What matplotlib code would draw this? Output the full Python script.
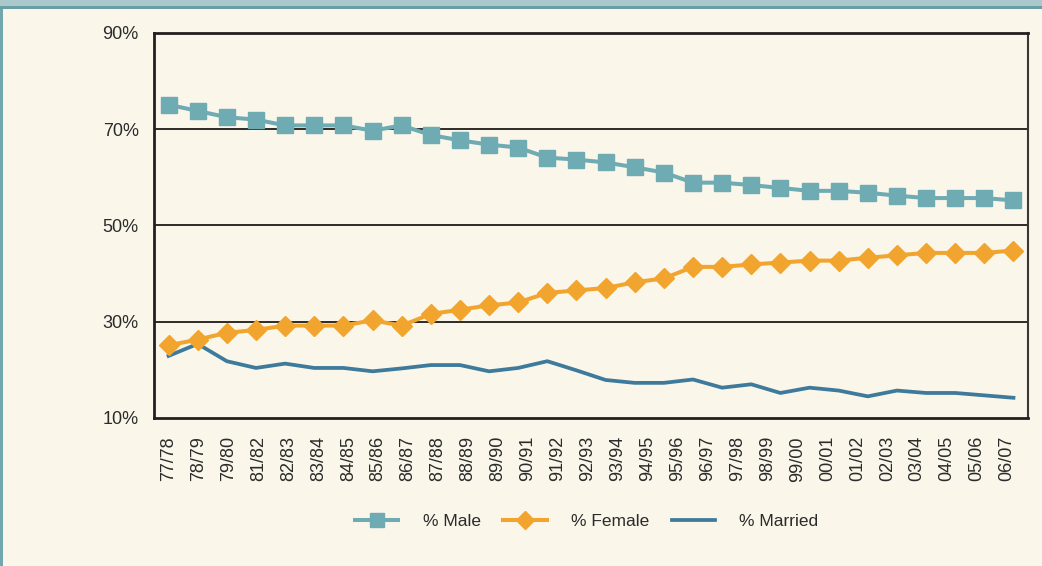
import numpy as np
import matplotlib
matplotlib.use('Agg')
import matplotlib.pyplot as plt
from matplotlib.patches import Rectangle

plt.rcParams['font.family'] = ['Liberation Sans Narrow', 'Liberation Sans', 'DejaVu Sans']

# academic years (tick labels as printed on the chart)
years = ['77/78', '78/79', '79/80', '81/82', '82/83', '83/84', '84/85', '85/86',
         '86/87', '87/88', '88/89', '89/90', '90/91', '91/92', '92/93', '93/94',
         '94/95', '95/96', '96/97', '97/98', '98/99', '99/00', '00/01', '01/02',
         '02/03', '03/04', '04/05', '05/06', '06/07']

# series values (percent), 30 points each
male = [75.1, 73.8, 72.5, 72.0, 70.8, 70.8, 70.8, 69.7, 70.8, 68.8,
        67.7, 66.8, 66.2, 64.1, 63.7, 63.1, 62.1, 61.0, 58.9, 58.9,
        58.4, 57.8, 57.2, 57.2, 56.8, 56.2, 55.7, 55.7, 55.7, 55.2]
female = [25.1, 26.3, 27.7, 28.3, 29.2, 29.2, 29.2, 30.3, 29.2, 31.6,
          32.5, 33.4, 34.0, 36.0, 36.5, 37.0, 38.2, 39.0, 41.4, 41.4,
          41.9, 42.3, 42.7, 42.7, 43.3, 43.8, 44.3, 44.3, 44.3, 44.8]
married = [22.9, 25.4, 21.8, 20.4, 21.3, 20.4, 20.4, 19.7, 20.3, 21.0,
           21.0, 19.7, 20.4, 21.8, 19.9, 17.9, 17.3, 17.3, 18.0, 16.3,
           17.0, 15.2, 16.3, 15.7, 14.5, 15.7, 15.2, 15.2, 14.7, 14.2]

bg = '#FAF6EA'
c_male = '#6FABB3'
c_female = '#F2A52E'
c_married = '#3D7A9B'

fig = plt.figure(figsize=(10.42, 5.66), dpi=100, facecolor=bg)
ax = fig.add_axes([0.1478, 0.2615, 0.8388, 0.6802])
ax.set_facecolor(bg)

x = np.arange(len(male))
ax.plot(x, married, color=c_married, lw=2.7, solid_joinstyle='round', label='% Married', zorder=3)
ax.plot(x, female, color=c_female, lw=2.9, marker='D', ms=10.5, mec=c_female, label='% Female', zorder=4)
ax.plot(x, male, color=c_male, lw=2.9, marker='s', ms=11.5, mec=c_male, label='% Male', zorder=5)

ax.set_xlim(-0.5, len(male) - 0.5)
ax.set_ylim(10, 90)
ax.set_yticks([10, 30, 50, 70, 90])
ax.set_yticklabels(['10%', '30%', '50%', '70%', '90%'])
for yv in [30, 50, 70]:
    ax.axhline(yv, color='#2E2A26', lw=1.4, zorder=1)

ax.set_xticks(np.linspace(0, 28.78, len(years)))
ax.set_xticklabels(years, rotation=90, va='top')
ax.tick_params(axis='both', length=0, labelsize=13, colors='#2B2B2B')
ax.tick_params(axis='y', pad=11)
ax.tick_params(axis='x', pad=13)

for side in ['left', 'bottom', 'top']:
    ax.spines[side].set_color('#231F20')
    ax.spines[side].set_linewidth(2)
ax.spines['right'].set_color('#3A3633')
ax.spines['right'].set_linewidth(1.5)

h, l = ax.get_legend_handles_labels()
order = [2, 1, 0]
fig.legend([h[i] for i in order], [l[i] for i in order], loc='center',
           bbox_to_anchor=(0.563, 0.079), ncol=3, frameon=False, fontsize=12.5,
           handlelength=2.5, handletextpad=1.4, columnspacing=1.3,
           labelcolor='#2B2B2B', markerscale=0.9)

# frame decoration: top band and left border
W, H = 1042.0, 566.0
fig.patches.append(Rectangle((0, 1 - 6 / H), 1, 6 / H, transform=fig.transFigure,
                             facecolor='#A9C9CC', edgecolor='none'))
fig.patches.append(Rectangle((0, 1 - 9 / H), 1, 3 / H, transform=fig.transFigure,
                             facecolor='#6A9EA2', edgecolor='none'))
fig.patches.append(Rectangle((0, 0), 3 / W, 1 - 9 / H, transform=fig.transFigure,
                             facecolor='#70A8AD', edgecolor='none'))

fig.savefig('out.png', dpi=100, facecolor=bg)
